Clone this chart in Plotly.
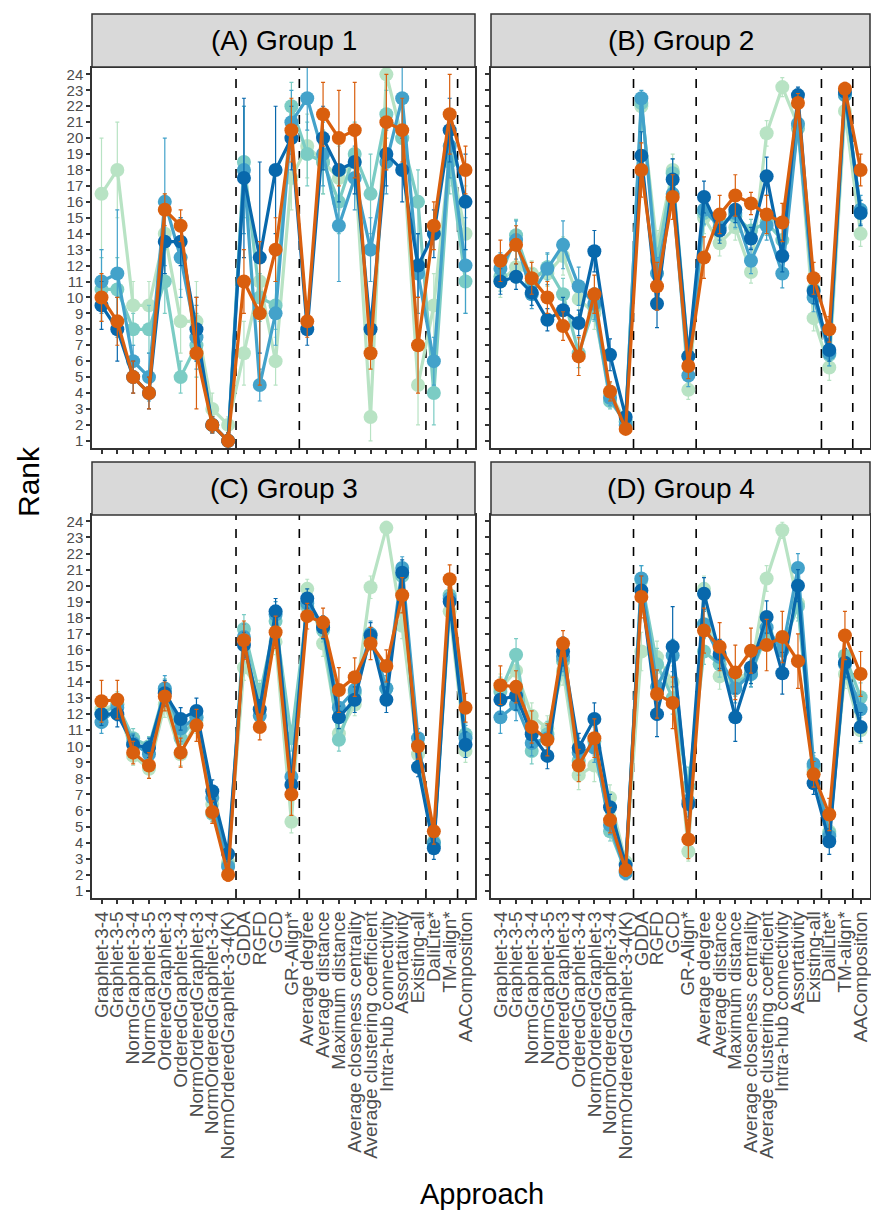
import plotly.graph_objects as go

categories = [
    "Graphlet-3-4", "Graphlet-3-5", "NormGraphlet-3-4", "NormGraphlet-3-5",
    "OrderedGraphlet-3", "OrderedGraphlet-3-4", "NormOrderedGraphlet-3",
    "NormOrderedGraphlet-3-4", "NormOrderedGraphlet-3-4(K)", "GDDA", "RGFD", "GCD",
    "GR-Align*", "Average degree", "Average distance", "Maximum distance",
    "Average closeness centrality", "Average clustering coefficient",
    "Intra-hub connectivity", "Assortativity", "Existing-all", "DaliLite*",
    "TM-align*", "AAComposition",
]
panel_titles = ["(A) Group 1", "(B) Group 2", "(C) Group 3", "(D) Group 4"]
series_names = ["Series 1", "Series 2", "Series 3", "Series 4", "Series 5"]
y_ticks = list(range(1, 25))
separators = [9.5, 13.5, 21.5, 23.5]

# ---- Group 1 ----
g1_s1 = [16.5, 18.0, 9.5, 9.5, 14.0, 8.5, 8.5, 3.0, 2.0, 6.5, 11.0, 6.0, 17.5, 19.5, 18.5, 17.5, 18.5, 2.5, 24.0, 20.0, 4.5, 9.5, 19.0, 14.0]
g1_s2 = [10.5, 10.5, 8.0, 8.0, 11.0, 5.0, 7.0, 2.0, 1.0, 18.5, 10.0, 9.5, 22.0, 19.0, 18.5, 16.0, 19.0, 16.5, 21.5, 20.0, 16.0, 4.0, 18.5, 11.0]
g1_s3 = [11.0, 11.5, 6.0, 5.0, 16.0, 12.5, 7.5, 2.0, 1.0, 18.0, 4.5, 9.0, 21.0, 22.5, 19.0, 14.5, 17.5, 13.0, 18.5, 22.5, 11.5, 6.0, 19.5, 12.0]
g1_s4 = [9.5, 8.0, 5.0, 4.0, 13.5, 13.5, 8.0, 2.0, 1.0, 17.5, 12.5, 18.0, 20.0, 8.0, 20.0, 18.0, 18.5, 8.0, 19.0, 18.0, 12.0, 14.0, 20.5, 16.0]
g1_s5 = [10.0, 8.5, 5.0, 4.0, 15.5, 14.5, 6.5, 2.0, 1.0, 11.0, 9.0, 13.0, 20.5, 8.5, 21.5, 20.0, 20.5, 6.5, 21.0, 20.5, 7.0, 14.5, 21.5, 18.0]
g1_e1 = [3.5, 3.0, 1.5, 1.5, 2.5, 2.0, 2.5, 1.0, 0.5, 2.0, 2.0, 1.5, 2.0, 2.0, 2.0, 2.0, 2.0, 1.5, 0.5, 2.0, 2.5, 2.0, 2.0, 3.0]
g1_e2 = [2.0, 2.0, 1.0, 1.5, 2.0, 1.0, 2.0, 0.5, 0.5, 3.5, 1.5, 1.5, 1.5, 2.0, 2.0, 2.0, 2.0, 2.5, 1.5, 2.0, 2.0, 2.0, 2.0, 2.0]
g1_e3 = [2.0, 4.0, 1.0, 1.5, 4.0, 2.5, 2.0, 0.5, 0.5, 4.0, 1.0, 2.0, 2.0, 2.0, 2.0, 3.5, 2.0, 2.0, 2.0, 2.0, 2.5, 1.5, 2.0, 3.0]
g1_e4 = [1.5, 2.0, 1.0, 1.0, 2.0, 1.5, 2.0, 0.5, 0.5, 5.0, 6.0, 4.0, 2.0, 1.0, 2.0, 2.0, 2.0, 1.0, 2.0, 2.0, 2.0, 1.5, 2.0, 3.0]
g1_e5 = [1.5, 1.5, 1.0, 1.0, 1.0, 1.0, 3.5, 0.5, 0.5, 2.0, 4.5, 2.0, 2.0, 1.0, 2.0, 3.0, 3.0, 1.0, 3.0, 2.0, 3.0, 1.5, 2.5, 1.5]

# ---- Group 2 ----
g2_s1 = [11.0, 11.9, 11.5, 11.5, 12.6, 9.9, 9.0, 4.0, 2.2, 22.0, 13.2, 18.0, 4.2, 15.0, 13.4, 14.4, 11.6, 20.3, 23.2, 20.8, 8.7, 5.6, 21.7, 14.0]
g2_s2 = [11.3, 13.9, 11.0, 11.9, 10.2, 6.5, 9.4, 3.5, 2.2, 22.2, 12.3, 17.8, 6.3, 15.3, 14.7, 15.1, 14.2, 14.7, 13.6, 20.6, 10.5, 6.4, 22.7, 15.3]
g2_s3 = [11.8, 13.6, 10.2, 11.8, 13.3, 10.7, 9.6, 3.7, 2.0, 22.5, 11.5, 16.5, 5.1, 15.5, 14.4, 15.3, 12.3, 14.5, 11.5, 20.9, 10.0, 6.5, 22.7, 15.5]
g2_s4 = [11.0, 11.3, 10.3, 8.6, 9.2, 8.4, 12.9, 6.4, 2.5, 18.9, 9.6, 17.4, 6.3, 16.3, 14.2, 15.5, 13.7, 17.6, 12.6, 22.7, 10.4, 6.7, 22.9, 15.3]
g2_s5 = [12.3, 13.3, 11.2, 10.0, 8.2, 6.3, 10.2, 4.1, 1.75, 18.0, 10.7, 16.3, 5.7, 12.5, 15.2, 16.4, 15.9, 15.2, 14.7, 22.2, 11.2, 8.0, 23.1, 18.0]
g2_e1 = [1.0, 1.0, 0.8, 0.8, 1.2, 1.0, 1.0, 0.6, 0.4, 0.8, 1.0, 1.0, 0.6, 1.0, 0.8, 0.8, 0.7, 0.8, 0.6, 0.6, 0.8, 0.8, 0.6, 0.8]
g2_e2 = [0.9, 1.0, 0.8, 0.8, 1.0, 0.9, 0.9, 0.5, 0.4, 0.6, 0.8, 0.9, 0.7, 0.8, 0.8, 0.8, 0.7, 0.8, 0.8, 0.7, 0.8, 0.7, 0.5, 0.8]
g2_e3 = [1.0, 1.2, 0.9, 1.0, 1.5, 1.2, 1.0, 0.5, 0.4, 0.5, 1.0, 1.0, 0.7, 0.9, 0.8, 0.9, 0.8, 0.9, 0.9, 0.7, 0.9, 0.8, 0.5, 0.9]
g2_e4 = [0.8, 0.8, 0.8, 0.7, 0.8, 0.8, 1.3, 1.0, 0.4, 1.5, 1.5, 1.3, 0.8, 1.0, 0.8, 0.8, 0.7, 1.2, 1.0, 0.5, 0.8, 0.7, 0.5, 0.8]
g2_e5 = [1.3, 1.2, 1.0, 1.0, 0.9, 1.2, 1.2, 0.6, 0.3, 1.7, 1.5, 1.4, 0.8, 1.3, 1.2, 1.3, 0.7, 1.2, 1.2, 0.6, 1.0, 0.8, 0.4, 1.0]

# ---- Group 3 ----
g3_s1 = [12.3, 12.6, 9.4, 8.6, 12.6, 9.5, 11.6, 6.4, 2.8, 14.9, 13.4, 16.5, 5.3, 19.8, 16.4, 10.8, 12.6, 19.9, 23.6, 17.5, 9.5, 4.1, 18.4, 9.7]
g3_s2 = [12.0, 12.6, 10.5, 10.0, 13.5, 10.5, 11.8, 5.8, 2.6, 17.3, 13.2, 17.8, 10.5, 18.7, 17.2, 10.4, 13.3, 16.7, 13.6, 20.6, 10.1, 3.9, 19.4, 10.75]
g3_s3 = [11.5, 12.4, 10.2, 9.5, 13.6, 11.1, 11.8, 6.8, 2.5, 16.8, 11.9, 18.2, 8.1, 18.9, 17.4, 12.4, 13.5, 17.0, 13.6, 21.1, 10.5, 4.0, 19.2, 10.5]
g3_s4 = [12.0, 12.0, 10.1, 9.9, 13.3, 11.7, 12.2, 7.2, 3.3, 16.3, 12.3, 18.4, 7.6, 19.2, 17.4, 11.8, 12.9, 16.9, 12.9, 20.8, 8.7, 3.65, 19.0, 10.1]
g3_s5 = [12.8, 12.9, 9.6, 8.8, 13.1, 9.6, 11.3, 5.9, 2.0, 16.6, 11.2, 17.1, 7.0, 18.1, 17.7, 13.5, 14.3, 16.4, 15.0, 19.4, 10.0, 4.7, 20.4, 12.4]
g3_e1 = [0.8, 0.8, 0.6, 0.6, 0.8, 0.7, 0.8, 0.6, 0.5, 0.8, 0.7, 0.8, 0.7, 0.6, 0.8, 0.7, 0.7, 0.7, 0.4, 0.8, 0.7, 0.7, 0.7, 0.7]
g3_e2 = [0.8, 0.7, 0.6, 0.6, 0.7, 0.7, 0.7, 0.5, 0.5, 0.9, 0.7, 0.8, 0.8, 0.6, 0.7, 0.7, 0.8, 0.7, 0.8, 0.7, 0.6, 0.6, 0.7, 0.7]
g3_e3 = [0.7, 0.8, 0.6, 0.6, 0.8, 0.8, 0.7, 0.6, 0.5, 0.8, 0.6, 0.8, 0.8, 0.6, 0.7, 0.8, 0.7, 0.8, 0.8, 0.7, 0.6, 0.6, 0.7, 0.8]
g3_e4 = [0.7, 0.8, 0.6, 0.6, 0.8, 0.7, 0.8, 0.7, 0.5, 0.8, 0.6, 0.8, 0.8, 0.6, 0.7, 0.7, 0.8, 0.8, 0.8, 0.8, 0.6, 0.7, 0.7, 0.8]
g3_e5 = [1.3, 1.2, 0.7, 0.8, 0.9, 0.9, 1.0, 0.7, 0.4, 1.2, 0.8, 1.0, 1.3, 0.8, 0.9, 1.4, 1.2, 1.0, 1.0, 1.1, 0.8, 0.8, 0.9, 0.9]

# ---- Group 4 ----
g4_s1 = [13.6, 14.7, 11.9, 11.1, 14.7, 8.2, 8.8, 6.8, 2.8, 15.9, 15.55, 14.0, 3.45, 19.8, 14.35, 14.1, 14.7, 20.45, 23.45, 18.9, 8.45, 4.7, 14.5, 11.0]
g4_s2 = [13.4, 15.7, 9.7, 10.75, 15.3, 9.1, 10.3, 4.7, 2.2, 20.35, 15.1, 13.0, 7.5, 15.9, 15.1, 13.9, 14.5, 17.0, 16.2, 18.7, 8.7, 4.6, 15.65, 13.05]
g4_s3 = [11.8, 12.6, 10.2, 10.5, 15.55, 9.6, 9.9, 5.1, 2.1, 20.45, 13.7, 15.65, 6.6, 17.6, 15.55, 13.6, 14.5, 17.4, 15.95, 21.1, 8.9, 4.4, 15.1, 12.3]
g4_s4 = [12.9, 13.15, 10.75, 9.4, 15.9, 9.9, 11.7, 6.2, 2.6, 19.7, 12.0, 16.2, 6.4, 19.5, 15.75, 11.8, 14.9, 18.05, 14.55, 20.0, 7.7, 4.07, 15.2, 11.2]
g4_s5 = [13.8, 13.7, 11.2, 10.4, 16.4, 8.8, 10.5, 5.4, 2.3, 19.3, 13.25, 12.7, 4.2, 17.2, 16.2, 14.6, 15.95, 16.3, 16.8, 15.3, 8.25, 5.75, 16.9, 14.5]
g4_e1 = [0.9, 1.0, 0.8, 0.8, 0.9, 0.9, 1.0, 0.8, 0.5, 1.2, 1.0, 1.0, 0.6, 0.8, 0.8, 0.8, 0.7, 0.8, 0.5, 0.9, 0.8, 0.9, 0.9, 0.8]
g4_e2 = [0.9, 1.0, 0.8, 0.8, 0.9, 0.9, 0.9, 0.6, 0.5, 0.9, 1.0, 1.0, 1.2, 0.8, 0.8, 0.8, 0.8, 0.8, 0.9, 0.9, 0.7, 0.7, 0.9, 0.9]
g4_e3 = [1.0, 1.0, 0.8, 0.8, 0.9, 0.9, 0.9, 0.6, 0.4, 0.8, 1.0, 1.0, 1.0, 0.8, 0.8, 0.9, 0.8, 0.9, 1.0, 0.9, 0.7, 0.7, 0.9, 0.9]
g4_e4 = [0.9, 0.9, 0.8, 0.8, 0.9, 0.9, 1.0, 0.8, 0.4, 0.9, 1.4, 2.5, 1.0, 1.0, 0.9, 1.5, 1.0, 1.0, 1.3, 1.0, 0.7, 0.8, 0.9, 0.9]
g4_e5 = [1.2, 1.0, 1.0, 1.0, 0.8, 1.0, 1.2, 0.8, 0.4, 1.3, 1.5, 1.6, 1.2, 1.4, 1.5, 1.7, 1.4, 1.6, 1.6, 1.7, 0.8, 1.0, 1.5, 1.4]

colors = ["#b8e3c4", "#7bccc4", "#43a2ca", "#0868ac", "#d95f0e"]

groups = [
    ([g1_s1, g1_s2, g1_s3, g1_s4, g1_s5], [g1_e1, g1_e2, g1_e3, g1_e4, g1_e5]),
    ([g2_s1, g2_s2, g2_s3, g2_s4, g2_s5], [g2_e1, g2_e2, g2_e3, g2_e4, g2_e5]),
    ([g3_s1, g3_s2, g3_s3, g3_s4, g3_s5], [g3_e1, g3_e2, g3_e3, g3_e4, g3_e5]),
    ([g4_s1, g4_s2, g4_s3, g4_s4, g4_s5], [g4_e1, g4_e2, g4_e3, g4_e4, g4_e5]),
]

# The page body adds an 8px margin; keep the figure small enough that the
# page never scrolls, and shift target screen positions by that offset.
OFF = 8
W, H = 879 - 2 * OFF, 1228 - 2 * OFF - 6
FONT = "Liberation Sans, Arial, Helvetica, sans-serif"

# panel boxes in screen pixels: (x0, x1, y_top, y_bottom)
panels_px = [
    (92, 475, 68, 448),
    (491, 870, 68, 448),
    (92, 475, 515, 898),
    (491, 870, 515, 898),
]
strip_px = [(14, 67), (14, 67), (462, 515), (462, 515)]


def px_x(v):
    return (v - OFF) / W


def px_y(v):
    return 1 - (v - OFF) / H


fig = go.Figure()
xpos = list(range(1, len(categories) + 1))

for p, (series, errs) in enumerate(groups):
    suffix = "" if p == 0 else str(p + 1)
    for k in range(5):
        fig.add_trace(go.Scatter(
            x=xpos, y=series[k], name=series_names[k],
            mode="lines+markers",
            line=dict(color=colors[k], width=3.2),
            marker=dict(color=colors[k], size=14),
            error_y=dict(type="data", array=errs[k], visible=True,
                         color=colors[k], thickness=1.2, width=2),
            xaxis="x" + suffix, yaxis="y" + suffix,
            showlegend=False,
        ))

layout = dict(
    width=W, height=H,
    margin=dict(l=0, r=0, t=0, b=0),
    paper_bgcolor="white", plot_bgcolor="white",
    font=dict(family=FONT, color="#4d4d4d"),
    showlegend=False,
)

shapes = []
annotations = []
for p in range(4):
    x0, x1, y0, y1 = panels_px[p]
    suffix = "" if p == 0 else str(p + 1)
    xa = dict(
        domain=[px_x(x0), px_x(x1)],
        range=[0.4, 24.6],
        tickmode="array", tickvals=xpos, ticktext=categories,
        showticklabels=(p >= 2), tickangle=-90,
        tickfont=dict(size=19, color="#4d4d4d", family=FONT),
        ticks="outside", ticklen=4, tickwidth=1.5, tickcolor="#333333",
        showline=True, mirror=True, linecolor="#333333", linewidth=1.5,
        showgrid=False, zeroline=False, automargin=False,
        anchor="y" + suffix,
    )
    ya = dict(
        domain=[px_y(y1), px_y(y0)],
        range=[0.55, 24.4],
        tickmode="array", tickvals=y_ticks, ticktext=[str(v) for v in y_ticks],
        showticklabels=(p % 2 == 0),
        tickfont=dict(size=15, color="#4d4d4d", family=FONT),
        ticks="outside", ticklen=4, tickwidth=1.5, tickcolor="#333333",
        showline=True, mirror=True, linecolor="#333333", linewidth=1.5,
        showgrid=False, zeroline=False, automargin=False,
        anchor="x" + suffix,
    )
    layout["xaxis" + suffix] = xa
    layout["yaxis" + suffix] = ya

    for s in separators:
        shapes.append(dict(
            type="line", xref="x" + suffix, yref="y" + suffix + " domain",
            x0=s, x1=s, y0=0, y1=1,
            line=dict(color="black", width=1.6, dash="dash"), layer="below",
        ))

    sy0, sy1 = strip_px[p]
    shapes.append(dict(
        type="rect", xref="paper", yref="paper",
        x0=px_x(x0), x1=px_x(x1), y0=px_y(sy1), y1=px_y(sy0),
        fillcolor="#d9d9d9", line=dict(color="#333333", width=1.5),
    ))
    annotations.append(dict(
        text=panel_titles[p], xref="paper", yref="paper",
        x=px_x((x0 + x1) / 2), y=px_y((sy0 + sy1) / 2),
        xanchor="center", yanchor="middle", showarrow=False,
        font=dict(size=28, color="black", family=FONT),
    ))

annotations.append(dict(
    text="Rank", xref="paper", yref="paper", x=px_x(28), y=px_y(482),
    xanchor="center", yanchor="middle", textangle=-90, showarrow=False,
    font=dict(size=30, color="black", family=FONT),
))
annotations.append(dict(
    text="Approach", xref="paper", yref="paper", x=px_x(482), y=px_y(1194),
    xanchor="center", yanchor="middle", showarrow=False,
    font=dict(size=29, color="black", family=FONT),
))

layout["shapes"] = shapes
layout["annotations"] = annotations
fig.update_layout(**layout)

fig.write_html("out.html")
